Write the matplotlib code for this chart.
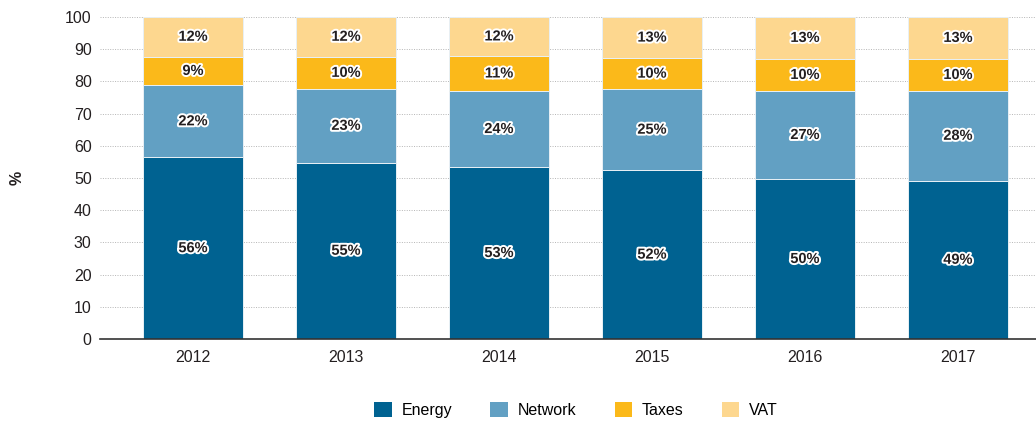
import matplotlib
matplotlib.use("Agg")
import matplotlib.pyplot as plt
import matplotlib.patheffects as pe
from matplotlib.patches import Patch
import numpy as np

plt.rcParams['font.family'] = ['Liberation Sans', 'DejaVu Sans']

years = ["2012", "2013", "2014", "2015", "2016", "2017"]
energy = [56.4, 54.8, 53.4, 52.4, 49.7, 49.2]
network = [22.4, 22.8, 23.6, 25.2, 27.3, 27.8]
taxes = [8.9, 10.1, 10.9, 9.6, 10.0, 10.0]
vat = [12.3, 12.3, 12.1, 12.8, 13.0, 13.0]

series = [("Energy", energy, "#006291"),
          ("Network", network, "#62A0C3"),
          ("Taxes", taxes, "#FBB91A"),
          ("VAT", vat, "#FDD78F")]

fig = plt.figure(figsize=(10.36, 4.23), dpi=100)
ax = fig.add_axes([100/1036, 84/423, 936/1036, 322/423])

x = np.arange(len(years))
bottom = np.zeros(len(years))
width = 0.655
for name, vals, col in series:
    vals = np.array(vals)
    ax.bar(x, vals, width, bottom=bottom, color=col, edgecolor="#e8f0f5",
           linewidth=0.7, zorder=3)
    for xi, b, v in zip(x, bottom, vals):
        ax.text(xi, b + v / 2, f"{round(v):d}%", ha="center", va="center",
                fontsize=10.5, fontweight="bold", color="#231f20", zorder=5,
                path_effects=[pe.withStroke(linewidth=2.8, foreground="white")])
    bottom = bottom + vals

ax.set_xlim(-0.608, 5.51)
ax.set_ylim(0, 100)
ax.set_yticks(range(0, 101, 10))
ax.set_xticks(x)
ax.set_xticklabels(years)
ax.tick_params(axis="both", length=0, labelsize=11.5, colors="#231f20")
ax.tick_params(axis="x", pad=8)
ax.tick_params(axis="y", pad=6)
ax.yaxis.grid(True, linestyle=(0, (1, 1.5)), color="#b5b5b5", linewidth=0.7, zorder=0)
ax.set_axisbelow(True)
for s in ["top", "right", "left"]:
    ax.spines[s].set_visible(False)
ax.spines["bottom"].set_color("#333333")
ax.spines["bottom"].set_linewidth(1.2)
ax.spines["bottom"].set_zorder(6)

fig.text(17/1036, 1 - 178/423, "%", rotation=90, ha="center", va="center",
         fontsize=11.5, fontweight="bold", color="#231f20")

handles = [Patch(facecolor=c, edgecolor="none", label=n) for n, _, c in series]
fig.legend(handles=handles, loc="center", bbox_to_anchor=(576/1036, 1 - 410/423),
           ncol=4, frameon=False, fontsize=11.5, handlelength=1.1, handleheight=1.1,
           columnspacing=2.4, handletextpad=0.6)

fig.savefig("out.png", dpi=100)
